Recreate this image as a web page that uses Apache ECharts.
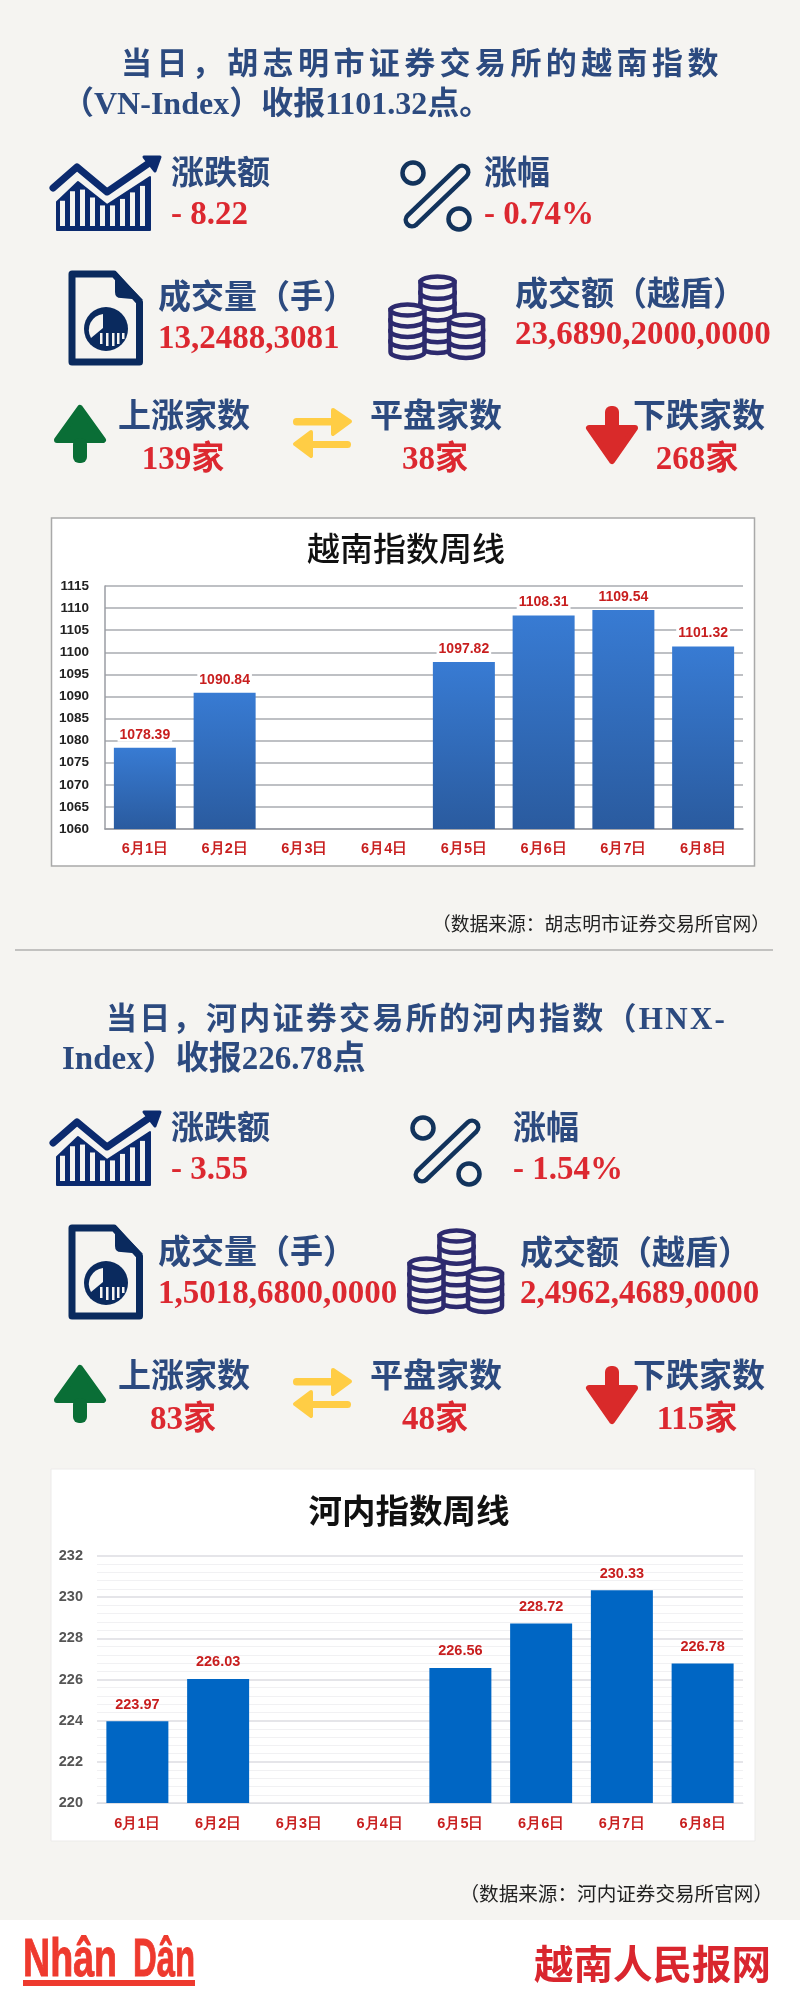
<!DOCTYPE html>
<html><head><meta charset="utf-8">
<script src="https://cdn.jsdelivr.net/npm/echarts@6/dist/echarts.min.js"></script>
<style>
html,body{margin:0;padding:0;background:#f5f4f1;}
#page{position:relative;width:800px;height:2000px;overflow:hidden;background:#f5f4f1;}
#chart{position:absolute;left:0;top:0;width:800px;height:2000px;}
#icons{position:absolute;left:0;top:0;}
.t{position:absolute;white-space:nowrap;transform:translateY(-50%);line-height:1.2;}
.c{transform:translate(-50%,-50%);}
.r{transform:translate(-100%,-50%);}
.h{font:bold 31px "Liberation Serif","Noto Sans CJK SC";color:#2c4a7f;}
.l{font:bold 33px "Noto Sans CJK SC";color:#2c4a7f;}
.v{font:bold 33px "Liberation Serif","Noto Sans CJK SC";color:#dc2830;}
.s{font:18.8px "Noto Sans CJK SC";color:#222;}
</style></head><body>
<div id="page">
<div id="chart"></div>
<svg id="icons" width="800" height="2000" viewBox="0 0 800 2000"></svg>
<div id="texts"></div>
</div>
<script>
// ---- data ----
const days = ['6月1日','6月2日','6月3日','6月4日','6月5日','6月6日','6月7日','6月8日'];
const vnValues = [1078.39,1090.84,null,null,1097.82,1108.31,1109.54,1101.32];
const hnxValues = [223.97,226.03,null,null,226.56,228.72,230.33,226.78];
const vnTitle = '越南指数周线';
const hnxTitle = '河内指数周线';
const vnHeading = ['当日，胡志明市证券交易所的越南指数','（VN-Index）收报1101.32点。'];
const hnxHeading = ['当日，河内证券交易所的河内指数（HNX-','Index）收报226.78点'];
const metricLabels = ['涨跌额','涨幅','成交量（手）','成交额（越盾）','上涨家数','平盘家数','下跌家数'];
const vnMetrics = ['- 8.22','- 0.74%','13,2488,3081','23,6890,2000,0000','139家','38家','268家'];
const hnxMetrics = ['- 3.55','- 1.54%','1,5018,6800,0000','2,4962,4689,0000','83家','48家','115家'];
const vnSource = '（数据来源：胡志明市证券交易所官网）';
const hnxSource = '（数据来源：河内证券交易所官网）';

// ---- text layer ----
const texts = document.getElementById('texts');
function T(str, x, y, cls, extra){
  const d = document.createElement('div');
  d.className = 't ' + cls; d.textContent = str;
  d.style.left = x + 'px'; d.style.top = y + 'px';
  if (extra) Object.assign(d.style, extra);
  texts.appendChild(d);
}
T(vnHeading[0],121,60,'h',{letterSpacing:'4.4px'});
T(vnHeading[1],62,100,'h',{fontSize:'32px'});
T(hnxHeading[0],106,1015,'h',{letterSpacing:'2.3px'});
T(hnxHeading[1],62,1055,'h',{fontSize:'33px'});
function metrics(vals, p, off3){
  T(metricLabels[0],171,170+p.o,'l');
  T(vals[0],171,213+p.o,'v');
  T(metricLabels[1],p.pctX,170+p.o,'l');
  T(vals[1],p.pctX,213+p.o,'v');
  T(metricLabels[2],158,294+p.o,'l');
  T(vals[2],158,337+p.o,'v');
  T(metricLabels[3],p.amtX,p.amtY,'l');
  T(vals[3],p.amtX,p.amtY+42,'v');
  T(metricLabels[4],118,413+off3,'l');
  T(metricLabels[5],370,413+off3,'l');
  T(metricLabels[6],633,413+off3,'l');
  T(vals[4],183,455+off3,'v c');
  T(vals[5],435,455+off3,'v c');
  T(vals[6],697,455+off3,'v c');
}
metrics(vnMetrics,{o:0,pctX:484,amtX:515,amtY:291},0);
metrics(hnxMetrics,{o:955,pctX:513,amtX:520,amtY:1250},960);
T(vnSource,770,922,'s r');
T(hnxSource,773,1892,'s r',{fontSize:'19.6px'});
const logo = {font:'bold 53px "Liberation Sans"',color:'#ee3a2e',WebkitTextStroke:'1px #ee3a2e',transformOrigin:'left center'};
T('Nhân',23,1957,'',Object.assign({},logo,{transform:'translateY(-50%) scaleX(.71)'}));
T('Dân',133,1957,'',Object.assign({},logo,{transform:'translateY(-50%) scaleX(.62)'}));
T('越南人民报网',534,1961,'',{font:'bold 39.5px "Noto Sans CJK SC"',color:'#d9262e'});

// ---- icons ----
const BG = '#f5f4f1';
let svg = '';
function trend(dy){
  const c = '#0b2a6e';
  const env = x => x<78 ? 202-(x-57)*20/21 : x<107 ? 182+(x-78)*23/29 : 205-(x-107)*28/43;
  let s = '<g transform="translate(0,'+dy+')" fill="'+c+'">';
  s += '<path d="M57 202 L78 182 L107 205 L150 177 V230 H57 Z" stroke="'+c+'" stroke-width="2" stroke-linejoin="round"/>';
  for (let i=0;i<9;i++){ const x=60+i*10, top=env(x+2.5)+4; s += '<rect x="'+x+'" y="'+top+'" width="5" height="'+(226-top)+'" fill="'+BG+'"/>'; }
  s += '<polyline points="53,188 77,167 107,192 152,161" fill="none" stroke="'+BG+'" stroke-width="11"/>';
  s += '<polyline points="53,188 77,167 107,192 152,161" fill="none" stroke="'+c+'" stroke-width="7" stroke-linecap="round" stroke-linejoin="round"/>';
  s += '<path d="M144 157 H160 L155 171Z" stroke="'+c+'" stroke-width="3" stroke-linejoin="round"/></g>';
  return s;
}
function pct(dx,dy){
  const c='#12335c';
  return '<g transform="translate('+dx+','+dy+')" fill="none"><circle cx="413" cy="173" r="10.5" stroke="'+c+'" stroke-width="4.5"/><circle cx="459" cy="219" r="10.5" stroke="'+c+'" stroke-width="4.5"/>'+
   '<line x1="462" y1="172" x2="412" y2="220" stroke="'+c+'" stroke-width="17" stroke-linecap="round"/><line x1="462" y1="172" x2="412" y2="220" stroke="'+BG+'" stroke-width="8" stroke-linecap="round"/></g>';
}
function doc(dy){
  const c='#0a2a5e';
  let s='<g transform="translate(0,'+dy+')"><path d="M72 274 H114 L139.5 302 V362 H72 Z" fill="none" stroke="'+c+'" stroke-width="7" stroke-linejoin="round"/>'+
  '<path d="M115 271 V292 Q115 298 121 298 L143 300 Z" fill="'+c+'"/>'+
  '<circle cx="106" cy="329" r="22" fill="'+c+'"/>'+
  '<path d="M103 314 A16 16 0 0 0 91 338 L103 328 Z" fill="'+BG+'"/>';
  [100,106,112,117,122].forEach((x,i)=>{ s+='<rect x="'+x+'" y="'+(i==4?333:333)+'" width="2.5" height="'+[11,13,13,11,6][i]+'" fill="'+BG+'"/>'; });
  return s+'</g>';
}
function coins(dx,dy){
  const c='#2d2a6e';
  function stack(cx,rx,top,bot,n){
    let o=''; const h=(bot-top-10)/n;
    for(let i=n-1;i>=0;i--){
      const y=top+5+i*h;
      o+='<path d="M'+(cx-rx)+' '+y+' V'+(y+h)+' A'+rx+' 6 0 0 0 '+(cx+rx)+' '+(y+h)+' V'+y+'Z" fill="'+BG+'" stroke="'+c+'" stroke-width="4.5"/>';
      o+='<ellipse cx="'+cx+'" cy="'+y+'" rx="'+rx+'" ry="5.5" fill="'+BG+'" stroke="'+c+'" stroke-width="4.5"/>';
    }
    return o;
  }
  return '<g transform="translate('+dx+','+dy+')">'+stack(437.5,17,277,352,6)+stack(407.5,17,305,357,4)+stack(466,17,315,357,3)+'</g>';
}
function arrows(dy){
  const y='#ffcd45';
  return '<g transform="translate(0,'+dy+')">'+
  '<path d="M80 408 L103 440 H57 Z" fill="#0a6e36" stroke="#0a6e36" stroke-width="6" stroke-linejoin="round"/><rect x="73" y="438" width="14" height="25" rx="6" fill="#0a6e36"/>'+
  '<rect x="293" y="418" width="42" height="7.5" rx="3.5" fill="'+y+'"/><path d="M333 410 L350 421.5 L333 434Z" fill="'+y+'" stroke="'+y+'" stroke-width="4" stroke-linejoin="round"/>'+
  '<rect x="310" y="441" width="41" height="7" rx="3.5" fill="'+y+'"/><path d="M311 432 L295 444 L311 456Z" fill="'+y+'" stroke="'+y+'" stroke-width="4" stroke-linejoin="round"/>'+
  '<rect x="605" y="406" width="14" height="25" rx="6" fill="#d92a2a"/><path d="M589 428 H635 L612 461 Z" fill="#d92a2a" stroke="#d92a2a" stroke-width="6" stroke-linejoin="round"/></g>';
}
svg += trend(0)+pct(0,0)+doc(0)+coins(0,0)+arrows(0);
svg += trend(955)+pct(10,955)+doc(954)+coins(19,954)+arrows(960);
svg += '<rect x="23" y="1980" width="172" height="6" fill="#ee3a2e"/>';
document.getElementById('icons').innerHTML = svg;

// ---- chart ----
const chart = echarts.init(document.getElementById('chart'), null, {width:800,height:2000});
const sans = '"Liberation Sans"';
function xAxis(i, margin){
  return {type:'category',gridIndex:i,data:days,
    axisTick:{show:false},
    axisLine:{show:true,lineStyle:{color:i?'#dcdde2':'#9a9ca3',width:i?1:1.5}},
    axisLabel:{interval:0,margin:margin,color:'#c81e1e',fontFamily:sans,fontWeight:'bold',fontSize:14.5}};
}
const option = {
  animation:false,
  backgroundColor:'transparent',
  title:[
    {text:vnTitle,left:401,top:543,textAlign:'center',textVerticalAlign:'middle',textStyle:{fontFamily:'"Noto Sans CJK SC"',fontWeight:'500',fontSize:33,color:'#111'}},
    {text:hnxTitle,left:404,top:1505,textAlign:'center',textVerticalAlign:'middle',textStyle:{fontFamily:'"Noto Sans CJK SC"',fontWeight:'bold',fontSize:33.5,color:'#111'}}
  ],
  graphic:[
    {type:'rect',z:-10,shape:{x:51.5,y:518,width:703,height:348},style:{fill:'#fff',stroke:'#a9a9a9',lineWidth:1.5}},
    {type:'rect',z:-10,shape:{x:51,y:1469,width:704,height:372},style:{fill:'#fff',stroke:'#ecebea',lineWidth:1}},
    {type:'line',z:-10,shape:{x1:15,y1:950,x2:773,y2:950},style:{stroke:'#8f8f8f',lineWidth:1}},
    {type:'rect',z:-10,shape:{x:0,y:1920,width:800,height:80},style:{fill:'#fff'}}
  ],
  grid:[
    {left:105,top:586,width:638,height:243},
    {left:97,top:1556,width:646,height:247}
  ],
  xAxis:[xAxis(0,12),xAxis(1,13)],
  yAxis:[
    {type:'value',gridIndex:0,min:1060,max:1115,interval:5,
     axisLine:{show:true,lineStyle:{color:'#9a9ca3',width:1.5}},axisTick:{show:false},
     splitLine:{lineStyle:{color:'#a9abb1',width:1.5}},
     axisLabel:{margin:16,color:'#222',fontFamily:sans,fontWeight:'bold',fontSize:13.5,formatter:v=>String(v)}},
    {type:'value',gridIndex:1,min:220,max:232,interval:2,
     axisLine:{show:false},axisTick:{show:false},
     minorTick:{show:false,splitNumber:5},
     minorSplitLine:{show:true,lineStyle:{color:'#f1f1f3',width:1}},
     splitLine:{lineStyle:{color:'#dcdde2',width:1.5}},
     axisLabel:{margin:14,color:'#555',fontFamily:sans,fontWeight:'bold',fontSize:14.5,formatter:v=>String(v)}}
  ],
  series:[
    {type:'bar',xAxisIndex:0,yAxisIndex:0,data:vnValues,barWidth:62,silent:true,
     itemStyle:{color:new echarts.graphic.LinearGradient(0,0,0,1,[{offset:0,color:'#387bd3'},{offset:1,color:'#2a5b9f'}])},
     label:{show:true,position:'top',distance:6,color:'#c81e1e',fontFamily:sans,fontWeight:'bold',fontSize:14,
       backgroundColor:'#fff',padding:[0,2],formatter:p=>p.value==null?'':p.value.toFixed(2)}},
    {type:'bar',xAxisIndex:1,yAxisIndex:1,data:hnxValues,barWidth:62,silent:true,
     itemStyle:{color:'#0066c4'},
     label:{show:true,position:'top',distance:9,color:'#c81e1e',fontFamily:sans,fontWeight:'bold',fontSize:14.5,
       formatter:p=>p.value==null?'':p.value.toFixed(2)}}
  ]
};
chart.setOption(option);
</script>
</body></html>
